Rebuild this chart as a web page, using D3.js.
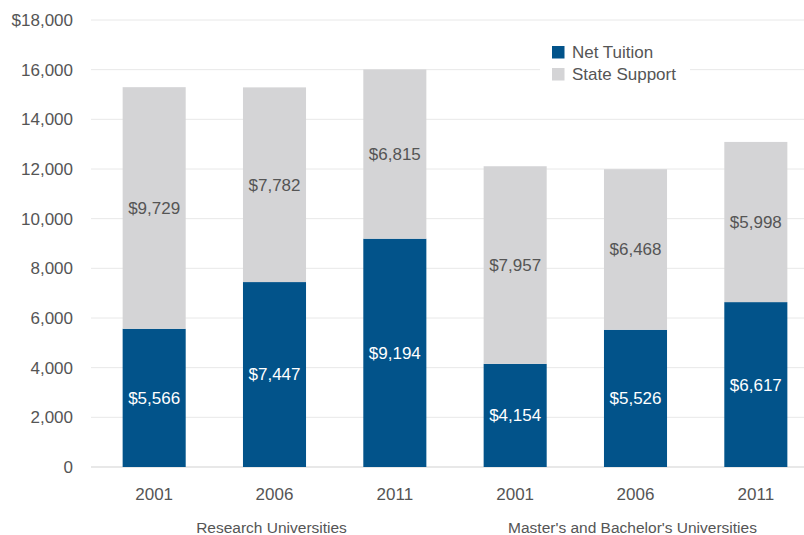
<!DOCTYPE html>
<html><head><meta charset="utf-8">
<script src="https://cdn.jsdelivr.net/npm/d3@7"></script>
<style>
html,body{margin:0;padding:0;background:#fff;}
svg text{font-family:"Liberation Sans",Arial,Helvetica,sans-serif;}
</style></head>
<body><svg id="chart" width="804" height="535"></svg>
<script>
const years = ["2001","2006","2011","2001","2006","2011"];
const groups = ["Research Universities","Master's and Bachelor's Universities"];
// printed labels
const netTuition = [5566, 7447, 9194, 4154, 5526, 6617];
const stateSupport = [9729, 7782, 6815, 7957, 6468, 5998];
// segment heights as drawn in the reference (some bars drawn slightly off their labels)
const netTuitionDrawn = [5566, 7447, 9194, 4154, 5526, 6640];
const stateSupportDrawn = [9729, 7840, 6815, 7957, 6468, 6450];
const yTicks = [0,2000,4000,6000,8000,10000,12000,14000,16000,18000];
const seriesNames = ["Net Tuition","State Support"];
const colors = ["#02538a","#d4d4d6"];

(function(){
const svg = d3.select("#chart");
const mLeft = 91, mRight = 804, mTop = 20, mBottom = 467;
const idx = d3.range(years.length);
const x = d3.scaleBand().domain(idx).range([94, 816]).paddingInner(0.476).paddingOuter(0.238);
const y = d3.scaleLinear().domain([0,18000]).range([mBottom, mTop]);

svg.append("g").selectAll("line").data(yTicks).join("line")
  .attr("x1", mLeft).attr("x2", mRight)
  .attr("y1", d=>y(d)).attr("y2", d=>y(d))
  .attr("stroke", d=> d===0 ? "#e0e0e0" : "#e8e8e8").attr("stroke-width", d=> d===0?1.5:1);

svg.append("g").selectAll("text").data(yTicks).join("text")
  .attr("x", 73).attr("y", d=>y(d)).attr("dy","0.35em")
  .attr("text-anchor","end").attr("font-size",17).attr("fill","#555")
  .text(d=> d===18000 ? "$"+d3.format(",")(d) : d3.format(",")(d));

const stackData = idx.map(i=>({i, net:netTuitionDrawn[i], st:stateSupportDrawn[i]}));
const stack = d3.stack().keys(["net","st"])(stackData);
const labelArrays = [netTuition, stateSupport];

const fmt = d=>"$"+d3.format(",")(d);
stack.forEach((layer, li)=>{
  const g = svg.append("g");
  g.selectAll("rect").data(layer).join("rect")
    .attr("x", d=>x(d.data.i)).attr("width", x.bandwidth())
    .attr("y", d=>y(d[1])).attr("height", d=>y(d[0])-y(d[1]))
    .attr("fill", colors[li]);
  g.selectAll("text").data(layer).join("text")
    .attr("x", d=>x(d.data.i)+x.bandwidth()/2)
    .attr("y", d=>(y(d[0])+y(d[1]))/2).attr("dy","0.35em")
    .attr("text-anchor","middle").attr("font-size",17)
    .attr("fill", li===0 ? "#fff" : "#555")
    .text(d=>fmt(labelArrays[li][d.data.i]));
});

svg.append("g").selectAll("text").data(idx).join("text")
  .attr("x", i=>x(i)+x.bandwidth()/2).attr("y", 494).attr("dy","0.35em")
  .attr("text-anchor","middle").attr("font-size",17).attr("fill","#555")
  .text(i=>years[i]);

svg.append("g").selectAll("text").data(groups).join("text")
  .attr("x", (d,k)=> (x(k*3)+x(k*3+2)+x.bandwidth())/2 - 3)
  .attr("y", 528).attr("dy","0.35em")
  .attr("text-anchor","middle").attr("font-size",15.5).attr("fill","#555")
  .text(d=>d);

const lg = svg.append("g");
lg.append("rect").attr("x",540).attr("y",40).attr("width",150).attr("height",44).attr("fill","#fff");
seriesNames.forEach((n,k)=>{
  lg.append("rect").attr("x",552).attr("y",46+k*22).attr("width",12.5).attr("height",12.5).attr("fill",colors[k]);
  lg.append("text").attr("x",572).attr("y",52.5+k*21.5).attr("dy","0.35em")
    .attr("font-size",17).attr("fill","#555").text(n);
});
})();
</script></body></html>
